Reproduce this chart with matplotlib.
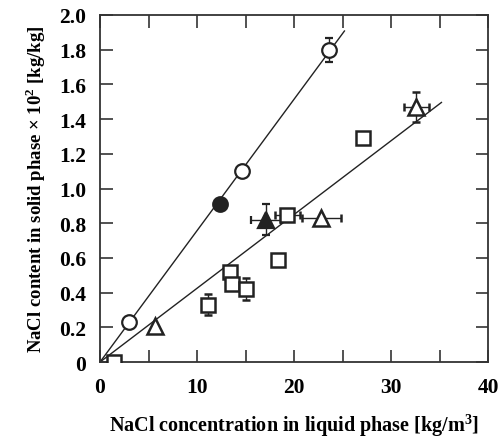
import numpy as np
import matplotlib.pyplot as plt
from matplotlib.ticker import MultipleLocator, FuncFormatter

plt.rcParams['font.family'] = ['Liberation Serif', 'DejaVu Serif']
plt.rcParams['font.weight'] = 'bold'
plt.rcParams['mathtext.fontset'] = 'custom'
plt.rcParams['mathtext.rm'] = 'Liberation Serif:bold'
plt.rcParams['mathtext.bf'] = 'Liberation Serif:bold'

# open circles
circ_x = [3.0, 14.6, 23.6]
circ_y = [0.23, 1.10, 1.80]
circ_yerr = [0, 0, 0.07]
# filled circle
fcirc_x = [12.4]
fcirc_y = [0.91]
# open triangles
tri_x = [5.7, 22.8, 32.6]
tri_y = [0.21, 0.83, 1.47]
tri_xerr = [0, 2.0, 1.3]
tri_yerr = [0, 0, 0.085]
# filled triangle
ftri_x = [17.1]
ftri_y = [0.82]
ftri_xerr = [1.55]
ftri_yerr = [0.09]
# squares
sq_x = [1.4, 11.1, 13.4, 13.6, 15.0, 18.4, 19.3, 27.1]
sq_y = [0.0, 0.33, 0.52, 0.45, 0.42, 0.59, 0.85, 1.29]
sq_xerr = [0, 0, 0, 0, 0, 0, 1.3, 0]
sq_yerr = [0, 0.06, 0, 0, 0.065, 0, 0, 0]

# fitted lines through origin
fit1_x = [0, 25.2]
fit1_slope = 0.0757
fit2_x = [0, 35.2]
fit2_slope = 0.0425

fig = plt.figure(figsize=(5, 4.39), dpi=100)
ax = fig.add_axes([0.2, 0.173, 0.776, 0.7906])

k = '#222222'
ax.plot(fit1_x, np.array(fit1_x) * fit1_slope, '-', color=k, lw=1.0, zorder=1)
ax.plot(fit2_x, np.array(fit2_x) * fit2_slope, '-', color=k, lw=1.0, zorder=1)

eb = dict(ecolor=k, elinewidth=1.0, capsize=3, capthick=1.0, ls='none')
ax.errorbar(circ_x, circ_y, yerr=circ_yerr, marker='o', ms=10.5, mfc='white',
            mec=k, mew=1.6, zorder=3, **eb)
ax.errorbar(fcirc_x, fcirc_y, marker='o', ms=10.5, mfc=k, mec=k, mew=1.6,
            zorder=3, **eb)
ax.errorbar(tri_x, tri_y, xerr=tri_xerr, yerr=tri_yerr, marker='^', ms=12,
            mfc='white', mec=k, mew=1.8, zorder=3, **eb)
ax.errorbar(ftri_x, ftri_y, xerr=ftri_xerr, yerr=ftri_yerr, marker='^', ms=12,
            mfc=k, mec=k, mew=1.6, zorder=3, **eb)
ax.errorbar(sq_x, sq_y, xerr=sq_xerr, yerr=sq_yerr, marker='s', ms=10,
            mfc='white', mec=k, mew=1.8, zorder=4, **eb)

ax.set_xlim(0, 40)
ax.set_ylim(0, 2.0)
ax.xaxis.set_major_locator(MultipleLocator(10))
ax.xaxis.set_minor_locator(MultipleLocator(5))
ax.yaxis.set_major_locator(MultipleLocator(0.2))
ax.yaxis.set_major_formatter(FuncFormatter(lambda v, p: '0' if abs(v) < 1e-9 else '%.1f' % v))

ax.tick_params(which='both', direction='in', top=True, right=True,
               length=9, width=1.2, color='#333333', labelsize=15.5)
ax.tick_params(axis='x', pad=11)
ax.tick_params(axis='y', pad=10)
for s in ax.spines.values():
    s.set_linewidth(1.3)
    s.set_color('#333333')

ax.set_xlabel('NaCl concentration in liquid phase [kg/m$^{3}$]',
              fontsize=14.5, fontweight='bold', labelpad=10)
ax.set_ylabel('NaCl content in solid phase \u00d7 10$^{2}$ [kg/kg]',
              fontsize=13.5, fontweight='bold', labelpad=8)

fig.savefig('out.png', dpi=100)
